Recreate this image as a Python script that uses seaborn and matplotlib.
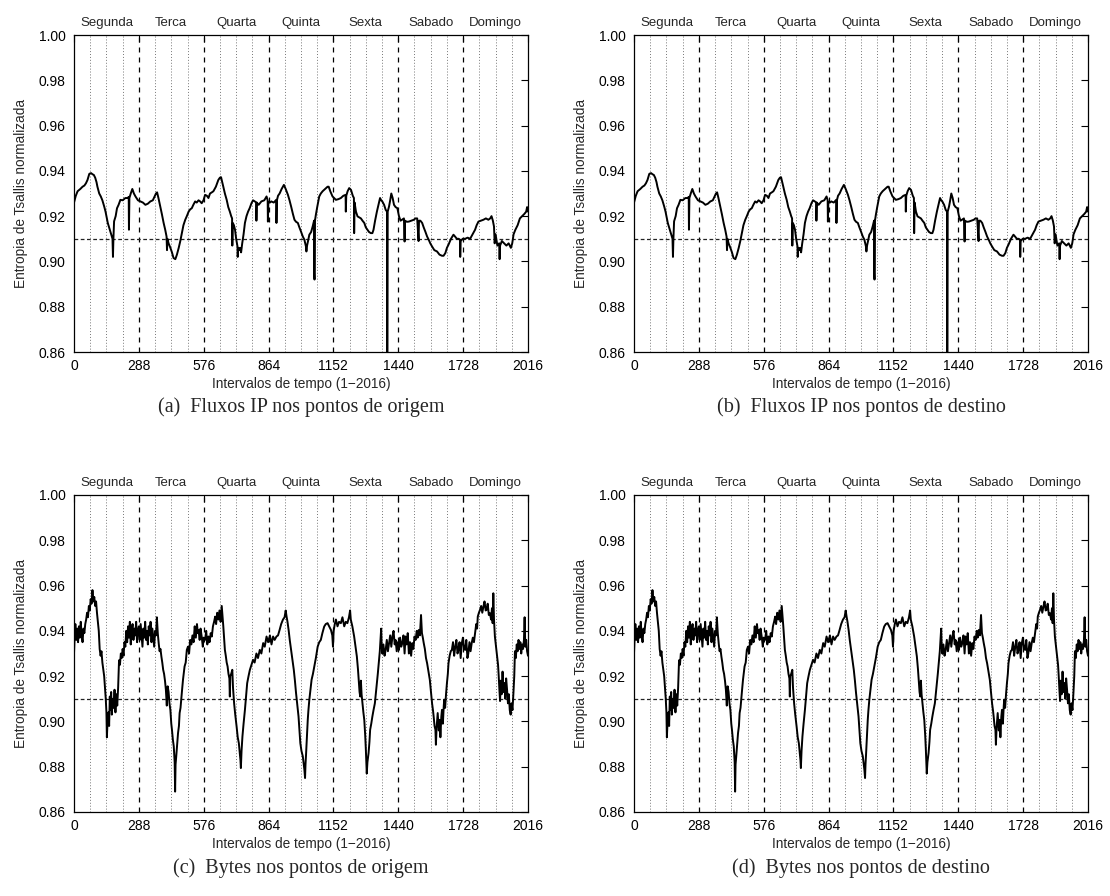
import numpy as np
import pandas as pd
import matplotlib
matplotlib.use("Agg")
import matplotlib.pyplot as plt
import seaborn as sns

sns.set_theme(style="white")
plt.rcParams['font.family'] = ['Liberation Sans', 'DejaVu Sans']

days = ["Segunda", "Terca", "Quarta", "Quinta", "Sexta", "Sabado", "Domingo"]
xticks = [0, 288, 576, 864, 1152, 1440, 1728, 2016]
yticks = [0.86, 0.88, 0.90, 0.92, 0.94, 0.96, 0.98, 1.00]
threshold = 0.91
xlabel = "Intervalos de tempo (1\u22122016)"
ylabel = "Entropia de Tsallis normalizada"
captions = ["(a)  Fluxos IP nos pontos de origem", "(b)  Fluxos IP nos pontos de destino",
            "(c)  Bytes nos pontos de origem", "(d)  Bytes nos pontos de destino"]

# IP-flow entropy (panels a, b)
flows_t = [0, 8, 16, 28, 38, 46, 53, 60, 68, 76, 82, 88, 94, 100, 104, 112, 119, 126, 134, 140,
           144, 150, 156, 163, 168, 171, 173, 175, 178, 185, 191, 198, 206, 216, 228, 238, 243, 244, 246, 252,
           259, 266, 273, 284, 295, 306, 317, 328, 339, 350, 358, 364, 369, 375, 383, 390, 398, 405, 411, 413,
           415, 420, 428, 435, 442, 450, 457, 465, 472, 479, 486, 494, 501, 509, 516, 523, 530, 538, 545, 553,
           560, 567, 575, 582, 590, 597, 604, 612, 619, 630, 641, 648, 653, 658, 663, 670, 678, 685, 692, 698,
           702, 703, 705, 710, 715, 720, 726, 727, 729, 733, 737, 742, 747, 753, 759, 766, 773, 780, 788, 795,
           803, 809, 810, 812, 820, 832, 845, 855, 860, 861, 863, 870, 876, 887, 898, 899, 901, 906, 913, 922,
           932, 940, 950, 957, 964, 972, 979, 986, 994, 1001, 1008, 1016, 1023, 1030, 1032, 1035, 1045, 1053, 1060, 1066,
           1067, 1068, 1069, 1070, 1074, 1080, 1089, 1096, 1104, 1115, 1126, 1131, 1138, 1148, 1155, 1163, 1174, 1185, 1196, 1206,
           1207, 1209, 1215, 1222, 1230, 1238, 1243, 1244, 1246, 1252, 1259, 1266, 1274, 1281, 1289, 1296, 1303, 1310, 1318, 1325,
           1330, 1337, 1345, 1352, 1359, 1364, 1369, 1377, 1384, 1390, 1391, 1393, 1399, 1404, 1409, 1415, 1421, 1428, 1436, 1443,
           1450, 1458, 1465, 1468, 1470, 1478, 1487, 1498, 1509, 1516, 1524, 1530, 1532, 1538, 1546, 1553, 1560, 1568, 1575, 1582,
           1590, 1600, 1612, 1623, 1634, 1641, 1649, 1656, 1663, 1674, 1685, 1692, 1700, 1708, 1714, 1715, 1717, 1726, 1737, 1748,
           1759, 1770, 1781, 1788, 1796, 1807, 1818, 1829, 1840, 1848, 1854, 1860, 1865, 1868, 1872, 1880, 1888, 1890, 1892, 1900,
           1910, 1920, 1930, 1940, 1946, 1952, 1960, 1970, 1980, 1990, 2000, 2008, 2012, 2016]
flows_v = [0.926, 0.929, 0.931, 0.932, 0.933, 0.9335, 0.9345, 0.936, 0.9387, 0.939, 0.9385, 0.9382, 0.937, 0.935, 0.933, 0.930, 0.9287, 0.927, 0.9243, 0.922,
           0.920, 0.917, 0.915, 0.9125, 0.911, 0.910, 0.902, 0.910, 0.9177, 0.920, 0.9235, 0.925, 0.9272, 0.927, 0.928, 0.928, 0.9285, 0.914, 0.928, 0.930,
           0.932, 0.930, 0.9287, 0.927, 0.9265, 0.926, 0.925, 0.9255, 0.9265, 0.927, 0.9287, 0.930, 0.9305, 0.928, 0.9243, 0.921, 0.917, 0.914, 0.911, 0.905,
           0.910, 0.908, 0.906, 0.904, 0.9015, 0.901, 0.903, 0.906, 0.909, 0.9125, 0.916, 0.9184, 0.920, 0.922, 0.923, 0.9235, 0.925, 0.9265, 0.926, 0.927,
           0.9265, 0.9257, 0.927, 0.9294, 0.929, 0.928, 0.930, 0.9305, 0.931, 0.933, 0.936, 0.937, 0.9372, 0.935, 0.933, 0.930, 0.9272, 0.924, 0.922, 0.920,
           0.919, 0.907, 0.917, 0.916, 0.914, 0.910, 0.9066, 0.902, 0.906, 0.905, 0.906, 0.904, 0.908, 0.912, 0.917, 0.920, 0.922, 0.9235, 0.9257, 0.927,
           0.9265, 0.926, 0.918, 0.926, 0.925, 0.9265, 0.927, 0.9287, 0.927, 0.9176, 0.926, 0.926, 0.9265, 0.926, 0.9272, 0.917, 0.927, 0.929, 0.930, 0.932,
           0.9338, 0.932, 0.9294, 0.927, 0.9243, 0.921, 0.9184, 0.9175, 0.917, 0.915, 0.9132, 0.911, 0.9096, 0.9066, 0.9044, 0.907, 0.9118, 0.913, 0.9155, 0.918,
           0.895, 0.892, 0.906, 0.918, 0.9206, 0.924, 0.9287, 0.930, 0.931, 0.932, 0.933, 0.933, 0.931, 0.9287, 0.928, 0.9272, 0.9275, 0.928, 0.929, 0.9294,
           0.922, 0.929, 0.931, 0.9324, 0.9316, 0.929, 0.928, 0.9125, 0.926, 0.922, 0.9199, 0.9195, 0.919, 0.918, 0.917, 0.915, 0.914, 0.913, 0.9125, 0.9125,
           0.914, 0.918, 0.922, 0.925, 0.928, 0.927, 0.9265, 0.925, 0.9228, 0.922, 0.855, 0.922, 0.9243, 0.927, 0.930, 0.928, 0.925, 0.924, 0.9235, 0.920,
           0.918, 0.9185, 0.919, 0.9088, 0.918, 0.9175, 0.9176, 0.918, 0.9184, 0.919, 0.919, 0.909, 0.918, 0.918, 0.917, 0.915, 0.9132, 0.911, 0.9096, 0.908,
           0.9066, 0.905, 0.9044, 0.903, 0.9025, 0.9025, 0.9037, 0.906, 0.9074, 0.910, 0.9118, 0.911, 0.910, 0.910, 0.9096, 0.902, 0.909, 0.910, 0.910, 0.9105,
           0.910, 0.912, 0.914, 0.916, 0.9176, 0.918, 0.9184, 0.919, 0.9184, 0.919, 0.920, 0.918, 0.9154, 0.908, 0.912, 0.907, 0.908, 0.901, 0.907, 0.909,
           0.908, 0.907, 0.908, 0.906, 0.908, 0.912, 0.914, 0.916, 0.919, 0.920, 0.921, 0.922, 0.924, 0.922]

# Byte entropy (panels c, d)
bytes_t = [0, 3, 6, 10, 14, 18, 22, 26, 30, 34, 38, 42, 46, 50, 54, 58, 62, 66, 70, 74,
           78, 82, 86, 90, 94, 98, 102, 106, 110, 114, 118, 122, 126, 130, 134, 138, 141, 144, 146, 149,
           153, 156, 159, 162, 165, 168, 172, 176, 180, 184, 188, 192, 196, 200, 204, 208, 212, 216, 220, 224,
           228, 232, 236, 240, 244, 248, 252, 256, 260, 264, 268, 272, 276, 280, 284, 288, 292, 296, 300, 304,
           308, 312, 316, 320, 324, 328, 332, 336, 340, 344, 348, 352, 356, 360, 364, 368, 372, 376, 380, 384,
           388, 392, 396, 400, 404, 408, 412, 414, 416, 420, 424, 428, 432, 435, 439, 443, 447, 449, 451, 454,
           458, 462, 466, 469, 473, 476, 480, 484, 488, 491, 496, 501, 506, 511, 516, 521, 526, 531, 536, 541,
           546, 550, 553, 558, 562, 567, 572, 576, 582, 587, 592, 597, 602, 607, 612, 617, 622, 627, 631, 636,
           641, 646, 651, 656, 660, 663, 667, 670, 674, 678, 682, 686, 690, 692, 694, 698, 703, 706, 711, 716,
           722, 727, 732, 736, 739, 741, 744, 748, 753, 759, 764, 769, 775, 781, 788, 795, 802, 810, 817, 825,
           832, 840, 847, 855, 862, 870, 877, 884, 891, 899, 906, 913, 920, 928, 935, 940, 944, 948, 953, 958,
           964, 970, 976, 981, 986, 991, 997, 1001, 1005, 1010, 1016, 1020, 1023, 1026, 1028, 1030, 1034, 1038, 1041, 1045,
           1050, 1055, 1061, 1067, 1074, 1082, 1089, 1096, 1103, 1111, 1118, 1126, 1133, 1141, 1147, 1150, 1153, 1158, 1163, 1170,
           1177, 1185, 1192, 1200, 1207, 1214, 1221, 1226, 1229, 1236, 1244, 1250, 1256, 1261, 1265, 1268, 1271, 1274, 1277, 1281,
           1285, 1289, 1293, 1296, 1298, 1300, 1303, 1308, 1312, 1315, 1320, 1325, 1330, 1336, 1340, 1345, 1349, 1353, 1358, 1362,
           1364, 1366, 1369, 1374, 1379, 1384, 1389, 1394, 1399, 1404, 1409, 1414, 1419, 1424, 1428, 1433, 1438, 1443, 1448, 1453,
           1458, 1463, 1468, 1472, 1477, 1482, 1487, 1492, 1497, 1502, 1507, 1512, 1517, 1522, 1526, 1531, 1536, 1541, 1545, 1549,
           1553, 1558, 1563, 1568, 1574, 1580, 1585, 1590, 1594, 1597, 1601, 1605, 1607, 1610, 1615, 1620, 1624, 1627, 1631, 1634,
           1638, 1642, 1644, 1648, 1652, 1656, 1660, 1663, 1668, 1673, 1678, 1683, 1688, 1693, 1698, 1703, 1707, 1712, 1717, 1722,
           1727, 1732, 1737, 1742, 1747, 1751, 1756, 1761, 1766, 1771, 1776, 1781, 1786, 1790, 1793, 1798, 1803, 1808, 1813, 1818,
           1823, 1828, 1832, 1837, 1842, 1847, 1852, 1856, 1859, 1862, 1865, 1869, 1874, 1879, 1883, 1886, 1889, 1892, 1895, 1899,
           1903, 1907, 1911, 1915, 1919, 1923, 1927, 1931, 1935, 1939, 1943, 1947, 1951, 1955, 1958, 1962, 1966, 1970, 1974, 1978,
           1982, 1986, 1990, 1994, 1998, 2001, 2004, 2008, 2012, 2016]
bytes_v = [0.930, 0.938, 0.943, 0.936, 0.941, 0.935, 0.942, 0.937, 0.944, 0.938, 0.935, 0.941, 0.939, 0.943, 0.945, 0.948, 0.946, 0.951, 0.949, 0.954,
           0.952, 0.958, 0.953, 0.955, 0.951, 0.953, 0.948, 0.944, 0.940, 0.932, 0.929, 0.931, 0.926, 0.923, 0.920, 0.914, 0.910, 0.904, 0.893, 0.900,
           0.904, 0.898, 0.911, 0.905, 0.913, 0.903, 0.910, 0.906, 0.914, 0.904, 0.912, 0.907, 0.915, 0.927, 0.925, 0.930, 0.928, 0.932, 0.929, 0.935,
           0.933, 0.940, 0.935, 0.942, 0.937, 0.944, 0.934, 0.940, 0.943, 0.936, 0.941, 0.938, 0.944, 0.935, 0.940, 0.942, 0.936, 0.943, 0.938, 0.933,
           0.941, 0.937, 0.944, 0.936, 0.940, 0.934, 0.942, 0.938, 0.944, 0.935, 0.941, 0.937, 0.933, 0.940, 0.938, 0.946, 0.939, 0.9346, 0.931, 0.932,
           0.9287, 0.926, 0.9228, 0.921, 0.918, 0.914, 0.907, 0.911, 0.9155, 0.913, 0.908, 0.905, 0.899, 0.8963, 0.892, 0.889, 0.882, 0.869, 0.881, 0.8846,
           0.890, 0.8949, 0.898, 0.9037, 0.906, 0.9096, 0.914, 0.9184, 0.922, 0.9243, 0.926, 0.9316, 0.933, 0.930, 0.936, 0.934, 0.938, 0.935, 0.942, 0.937,
           0.943, 0.939, 0.9404, 0.936, 0.941, 0.9375, 0.933, 0.937, 0.936, 0.940, 0.934, 0.9375, 0.935, 0.939, 0.9375, 0.942, 0.944, 0.9463, 0.943, 0.948,
           0.945, 0.949, 0.944, 0.951, 0.946, 0.942, 0.936, 0.9316, 0.929, 0.926, 0.9243, 0.921, 0.919, 0.911, 0.920, 0.921, 0.9228, 0.915, 0.908, 0.903,
           0.8978, 0.893, 0.8904, 0.886, 0.883, 0.8794, 0.887, 0.8934, 0.899, 0.9051, 0.911, 0.9169, 0.920, 0.9228, 0.925, 0.9272, 0.926, 0.930, 0.928, 0.9316,
           0.930, 0.9346, 0.933, 0.9375, 0.935, 0.938, 0.934, 0.9375, 0.936, 0.9375, 0.938, 0.9404, 0.943, 0.945, 0.946, 0.949, 0.9463, 0.944, 0.9404, 0.936,
           0.9316, 0.927, 0.9228, 0.918, 0.9125, 0.908, 0.9022, 0.896, 0.8904, 0.887, 0.8846, 0.881, 0.8787, 0.875, 0.881, 0.8846, 0.893, 0.9007, 0.905, 0.9096,
           0.914, 0.9184, 0.921, 0.9243, 0.928, 0.933, 0.935, 0.936, 0.939, 0.9419, 0.943, 0.9434, 0.942, 0.9404, 0.938, 0.933, 0.940, 0.943, 0.945, 0.942,
           0.944, 0.9434, 0.946, 0.942, 0.944, 0.9434, 0.946, 0.949, 0.945, 0.942, 0.9375, 0.933, 0.9287, 0.923, 0.9169, 0.913, 0.911, 0.918, 0.912, 0.908,
           0.904, 0.9007, 0.894, 0.8875, 0.882, 0.877, 0.882, 0.886, 0.891, 0.8963, 0.899, 0.9022, 0.905, 0.908, 0.912, 0.9169, 0.921, 0.9257, 0.931, 0.9375,
           0.941, 0.934, 0.930, 0.934, 0.929, 0.9316, 0.936, 0.931, 0.9346, 0.938, 0.933, 0.9375, 0.940, 0.934, 0.936, 0.931, 0.935, 0.9316, 0.937, 0.933,
           0.9346, 0.938, 0.930, 0.9375, 0.934, 0.939, 0.930, 0.935, 0.929, 0.9346, 0.932, 0.9375, 0.936, 0.940, 0.937, 0.9404, 0.938, 0.947, 0.939, 0.937,
           0.9346, 0.932, 0.928, 0.9257, 0.922, 0.9184, 0.913, 0.908, 0.905, 0.9022, 0.898, 0.8963, 0.8897, 0.897, 0.9037, 0.896, 0.9007, 0.893, 0.902, 0.9051,
           0.899, 0.907, 0.9096, 0.906, 0.912, 0.9169, 0.921, 0.9257, 0.929, 0.931, 0.9316, 0.935, 0.929, 0.933, 0.936, 0.930, 0.9316, 0.935, 0.928, 0.9346,
           0.937, 0.932, 0.9316, 0.936, 0.928, 0.930, 0.935, 0.931, 0.9346, 0.937, 0.935, 0.939, 0.943, 0.941, 0.9463, 0.948, 0.9493, 0.951, 0.948, 0.9507,
           0.953, 0.949, 0.9493, 0.952, 0.947, 0.9478, 0.945, 0.950, 0.9434, 0.9566, 0.945, 0.9375, 0.933, 0.9287, 0.925, 0.920, 0.914, 0.909, 0.918, 0.912,
           0.922, 0.913, 0.917, 0.910, 0.919, 0.914, 0.908, 0.912, 0.905, 0.903, 0.908, 0.905, 0.912, 0.920, 0.931, 0.928, 0.934, 0.931, 0.936, 0.932,
           0.935, 0.930, 0.934, 0.932, 0.936, 0.946, 0.933, 0.936, 0.931, 0.929]

series = {"flows": pd.DataFrame({"t": flows_t, "v": flows_v}),
          "bytes": pd.DataFrame({"t": bytes_t, "v": bytes_v})}
panel_series = ["flows", "flows", "bytes", "bytes"]

W, H = 1110, 896
fig = plt.figure(figsize=(W / 100, H / 100), dpi=100)
fig.patch.set_facecolor("white")

# axes boxes in pixels: left, right, top, bottom
boxes = [(74, 528, 35, 352), (634, 1088, 35, 352), (74, 528, 495, 812), (634, 1088, 495, 812)]
cap_y = [407, 868]

for k, (l, r, t, b) in enumerate(boxes):
    ax = fig.add_axes([l / W, 1 - b / H, (r - l) / W, (b - t) / H])
    ax.set_facecolor("white")
    for x in range(72, 2016, 72):
        if x % 288 == 0:
            ax.axvline(x, color="black", lw=0.9, ls=(0, (4, 4)), zorder=1)
        else:
            ax.axvline(x, color="#777777", lw=0.7, ls=(0, (1, 2)), zorder=1)
    ax.axhline(threshold, color="#222222", lw=0.9, ls=(0, (3, 2)), zorder=1)
    d = series[panel_series[k]]
    sns.lineplot(data=d, x="t", y="v", ax=ax, color="black", lw=1.4,
                 estimator=None, sort=False, zorder=3)
    ax.set_xlim(0, 2016)
    ax.set_ylim(0.86, 1.00)
    ax.set_xticks(xticks)
    ax.set_xticklabels([str(v) for v in xticks])
    ax.set_yticks(yticks)
    ax.set_yticklabels([f"{v:.2f}" for v in yticks])
    ax.tick_params(direction="in", length=5, width=0.8, top=True, right=True,
                   labelsize=10, colors="black")
    ax.tick_params(axis="y", pad=6)
    ax.tick_params(axis="x", pad=5)
    for s in ax.spines.values():
        s.set_color("black")
        s.set_linewidth(0.9)
    ax.set_xlabel(xlabel, fontsize=9.8, labelpad=3)
    ax.set_ylabel(ylabel, fontsize=9.8, labelpad=8)
    for j, dname in enumerate(days):
        ax.text(144 + 288 * j, 1.02, dname, transform=ax.get_xaxis_transform(),
                ha="center", va="bottom", fontsize=9.5)
    row = k // 2
    fig.text(((l + r) / 2) / W, 1 - cap_y[row] / H, captions[k], ha="center", va="center",
             fontsize=14.5, family=["Liberation Serif", "DejaVu Serif"])

fig.savefig("out.png", dpi=100, facecolor="white")
